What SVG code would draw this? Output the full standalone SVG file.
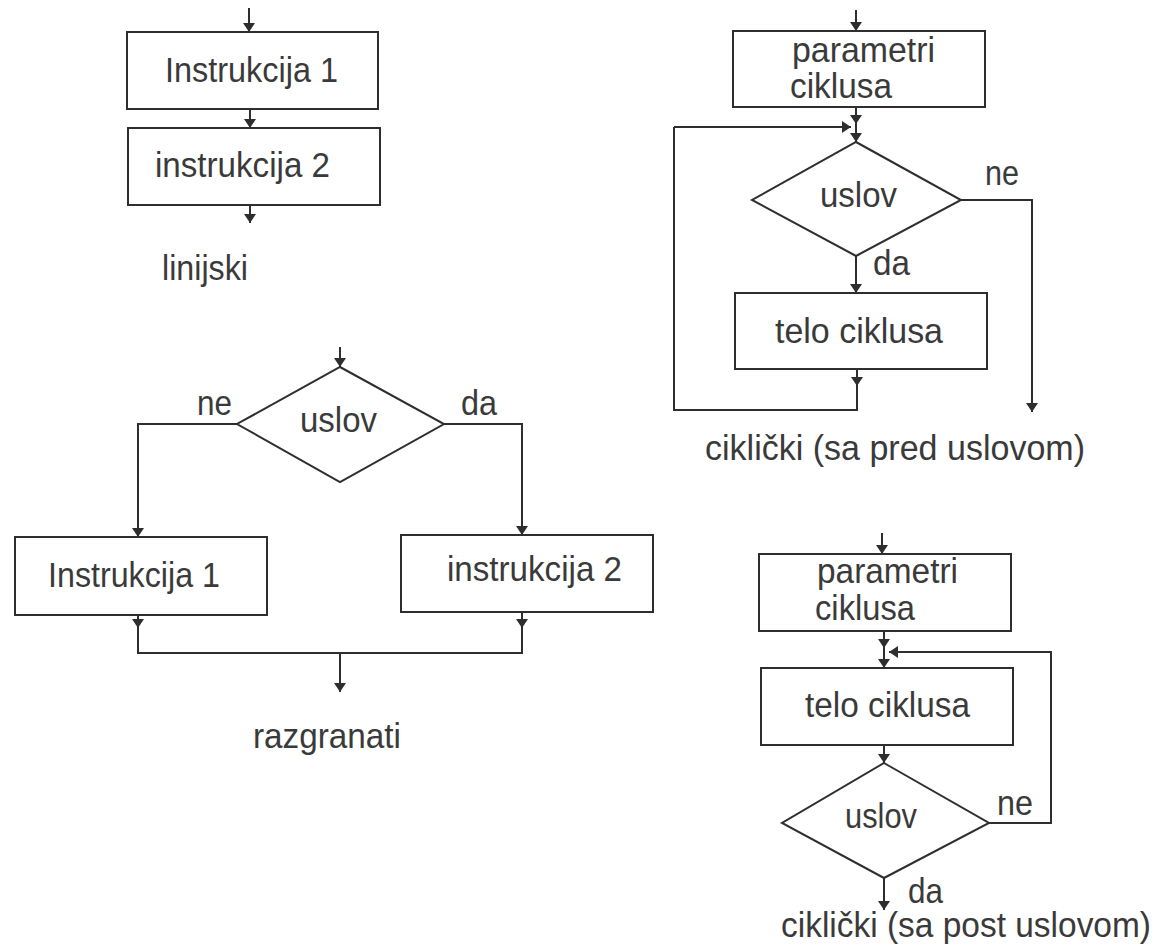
<svg xmlns="http://www.w3.org/2000/svg" width="1165" height="952" viewBox="0 0 1165 952">
  <style>
    .box { fill: #ffffff; stroke: #2e2e2e; stroke-width: 2; }
    .dia { fill: #ffffff; stroke: #2e2e2e; stroke-width: 2; stroke-linejoin: miter; }
    .ln { fill: none; stroke: #2e2e2e; stroke-width: 2; }
    .arr { fill: none; stroke: #2e2e2e; stroke-width: 2; marker-end: url(#tip); }
    text { font-family: "Liberation Sans", Arial, sans-serif; font-size: 35px; fill: #3a3a3a; }
  </style>
  <defs>
    <marker id="tip" markerUnits="userSpaceOnUse" markerWidth="9" markerHeight="12" refX="9" refY="6" orient="auto" viewBox="0 0 9 12">
      <path d="M0,0 L9,6 L0,12 z" fill="#2e2e2e"/>
    </marker>
  </defs>
  <rect width="1165" height="952" fill="#ffffff"/>

  <!-- connectors -->
  <g id="connectors">
    <!-- linear -->
    <path class="arr" d="M249,8 V32"/>
    <path class="arr" d="M250,109 V128"/>
    <path class="arr" d="M250,205 V223"/>
    <!-- loop with pre-condition -->
    <path class="arr" d="M856,10 V31"/>
    <path class="arr" d="M856,107 V124"/>
    <path class="arr" d="M856,124 V142"/>
    <path class="arr" d="M674,127 H851"/>
    <path class="arr" d="M961,200 H1032 V412"/>
    <path class="arr" d="M856,256 V293"/>
    <path class="arr" d="M857,369 V386"/>
    <path class="ln" d="M857,386 V410 H674 V127"/>
    <!-- branching -->
    <path class="arr" d="M340,347 V367"/>
    <path class="arr" d="M237,424 H138 V537"/>
    <path class="arr" d="M444,424 H522 V535"/>
    <path class="arr" d="M138,615 V628"/>
    <path class="arr" d="M522,612 V628"/>
    <path class="ln" d="M138,628 V653 H522 V628"/>
    <path class="arr" d="M340,653 V692"/>
    <!-- loop with post-condition -->
    <path class="arr" d="M882,533 V554"/>
    <path class="arr" d="M884,631 V648"/>
    <path class="arr" d="M884,648 V668"/>
    <path class="arr" d="M989,823 H1051 V652 H889"/>
    <path class="arr" d="M884,745 V763"/>
    <path class="arr" d="M884,878 V910"/>
  </g>

  <!-- linear structure -->
  <g id="lin-instr1">
    <rect class="box" x="127" y="32" width="251" height="77"/>
    <text x="165" y="82" textLength="173" lengthAdjust="spacingAndGlyphs">Instrukcija 1</text>
  </g>
  <g id="lin-instr2">
    <rect class="box" x="128" y="128" width="252" height="77"/>
    <text x="155" y="177" textLength="175" lengthAdjust="spacingAndGlyphs">instrukcija 2</text>
  </g>
  <g id="lin-label">
    <text x="162" y="280" textLength="86" lengthAdjust="spacingAndGlyphs">linijski</text>
  </g>

  <!-- loop with pre-condition -->
  <g id="pre-params">
    <rect class="box" x="733" y="31" width="252" height="76"/>
    <text x="792" y="62" textLength="143" lengthAdjust="spacingAndGlyphs">parametri</text>
    <text x="790" y="98" textLength="102" lengthAdjust="spacingAndGlyphs">ciklusa</text>
  </g>
  <g id="pre-cond">
    <polygon class="dia" points="856,142 961,200 856,256 752,200"/>
    <text x="820" y="207" textLength="77" lengthAdjust="spacingAndGlyphs">uslov</text>
    <text x="985" y="185" textLength="34" lengthAdjust="spacingAndGlyphs">ne</text>
    <text x="873" y="275" textLength="37" lengthAdjust="spacingAndGlyphs">da</text>
  </g>
  <g id="pre-body">
    <rect class="box" x="735" y="293" width="252" height="76"/>
    <text x="775" y="343" textLength="168" lengthAdjust="spacingAndGlyphs">telo ciklusa</text>
  </g>
  <g id="pre-label">
    <text x="705" y="460" textLength="380" lengthAdjust="spacingAndGlyphs">ciklički (sa pred uslovom)</text>
  </g>

  <!-- branching structure -->
  <g id="br-cond">
    <polygon class="dia" points="340,367 444,424 340,482 237,424"/>
    <text x="300" y="432" textLength="77" lengthAdjust="spacingAndGlyphs">uslov</text>
    <text x="197" y="415" textLength="35" lengthAdjust="spacingAndGlyphs">ne</text>
    <text x="461" y="415" textLength="36" lengthAdjust="spacingAndGlyphs">da</text>
  </g>
  <g id="br-instr1">
    <rect class="box" x="15" y="537" width="252" height="78"/>
    <text x="48" y="587" textLength="172" lengthAdjust="spacingAndGlyphs">Instrukcija 1</text>
  </g>
  <g id="br-instr2">
    <rect class="box" x="401" y="535" width="252" height="77"/>
    <text x="447" y="581" textLength="175" lengthAdjust="spacingAndGlyphs">instrukcija 2</text>
  </g>
  <g id="br-label">
    <text x="253" y="748" textLength="148" lengthAdjust="spacingAndGlyphs">razgranati</text>
  </g>

  <!-- loop with post-condition -->
  <g id="post-params">
    <rect class="box" x="759" y="554" width="252" height="77"/>
    <text x="817" y="583" textLength="141" lengthAdjust="spacingAndGlyphs">parametri</text>
    <text x="815" y="620" textLength="100" lengthAdjust="spacingAndGlyphs">ciklusa</text>
  </g>
  <g id="post-body">
    <rect class="box" x="761" y="668" width="252" height="77"/>
    <text x="805" y="717" textLength="165" lengthAdjust="spacingAndGlyphs">telo ciklusa</text>
  </g>
  <g id="post-cond">
    <polygon class="dia" points="884,763 989,823 884,878 782,823"/>
    <text x="845" y="828" textLength="72" lengthAdjust="spacingAndGlyphs">uslov</text>
    <text x="997" y="815" textLength="36" lengthAdjust="spacingAndGlyphs">ne</text>
    <text x="908" y="903" textLength="35" lengthAdjust="spacingAndGlyphs">da</text>
  </g>
  <g id="post-label">
    <text x="781" y="937" font-size="34" textLength="370" lengthAdjust="spacingAndGlyphs">ciklički (sa post uslovom)</text>
  </g>
</svg>
